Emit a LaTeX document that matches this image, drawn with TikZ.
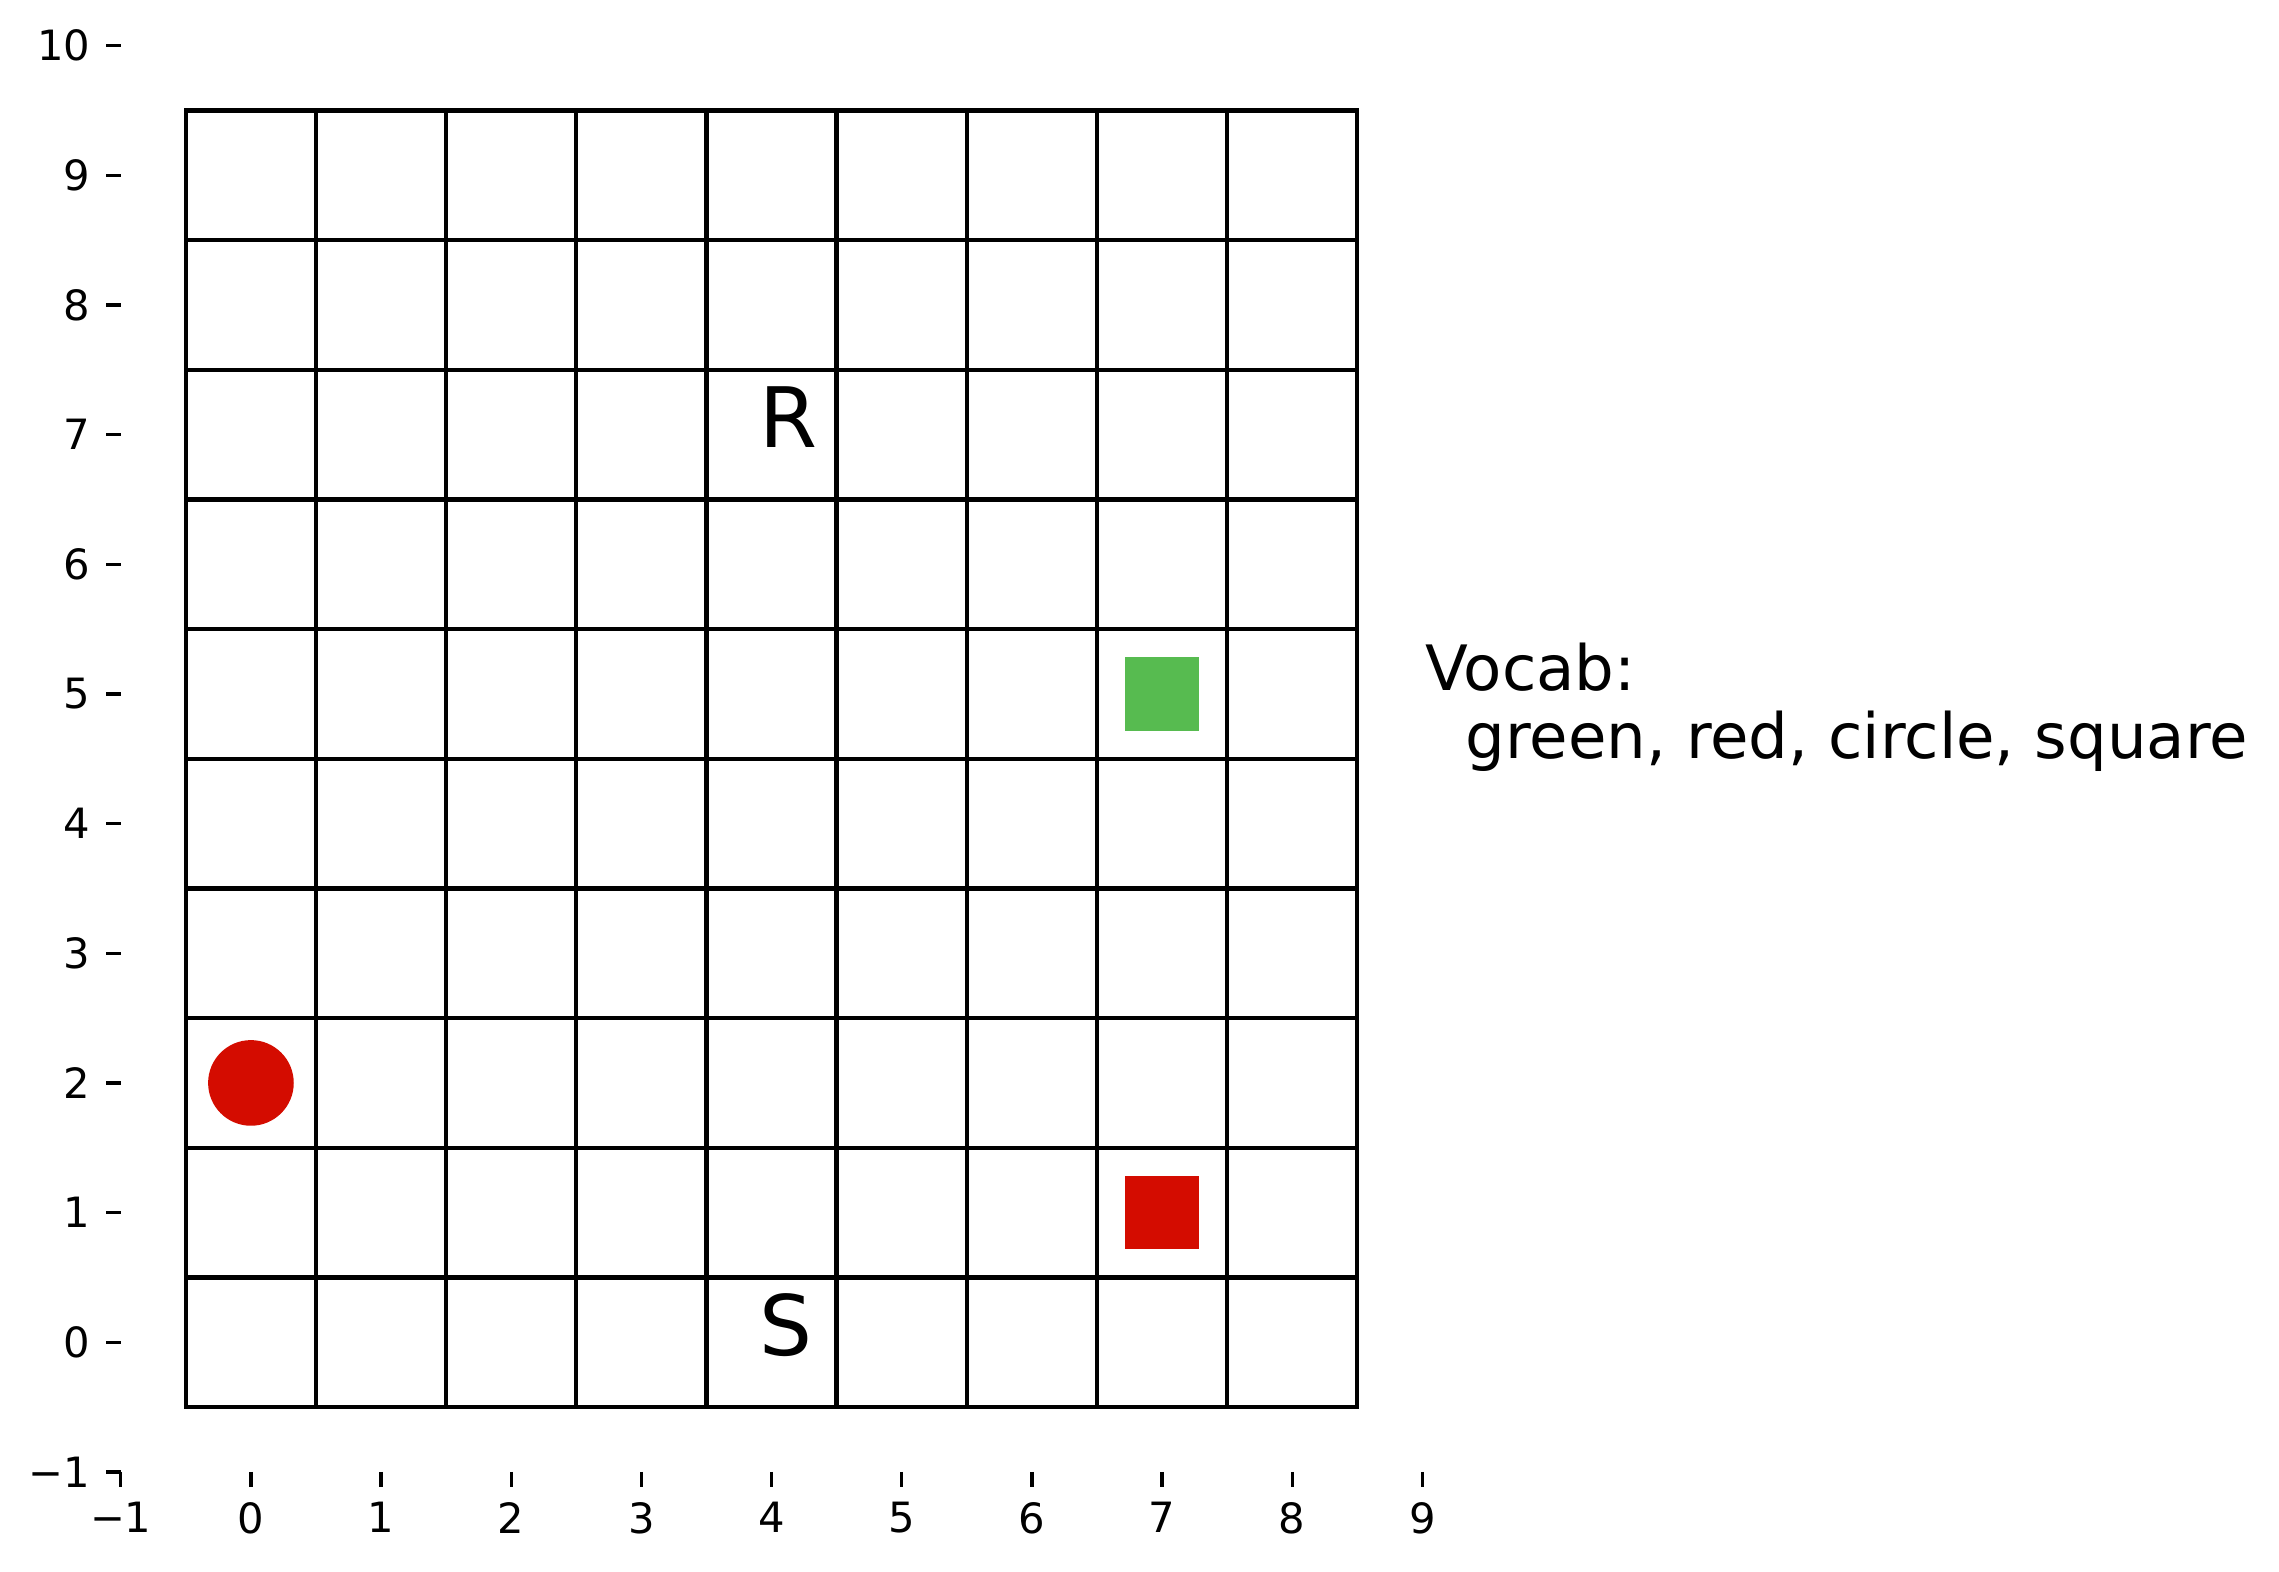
\documentclass[tikz,border=0pt]{standalone}
\usepackage{fontspec}
\setmainfont{DejaVu Sans}
\definecolor{cellred}{RGB}{212,12,0}
\definecolor{cellgreen}{RGB}{87,187,80}
\begin{document}
\begin{tikzpicture}[x=1cm,y=0.99608cm,
  gridline/.style={line width=0.95pt, black, line cap=rect},
  tickline/.style={line width=0.73pt, black},
  ticklabel/.style={inner sep=0pt, font=\fontsize{9.12}{11}\selectfont},
  bigletter/.style={inner sep=0pt, anchor=base west, font=\fontsize{18.24}{22}\selectfont},
  vocabtext/.style={inner sep=0pt, anchor=base west, font=\fontsize{13.68}{16}\selectfont},
  shapesq/.style={minimum size=0.563cm, inner sep=0pt, draw=none},
  shapecirc/.style={circle, minimum size=0.658cm, inner sep=0pt, draw=none}]
\useasboundingbox (-1.928,-1.765) rectangle (15.582,10.353);
% grid
\foreach \i in {0,...,9} {
  \draw[gridline] (\i-0.5,-0.5) -- (\i-0.5,9.5);
}
\foreach \j in {0,...,10} {
  \draw[gridline] (-0.5,\j-0.5) -- (8.5,\j-0.5);
}
% x ticks
\foreach \k/\t in {-1/−1,0/0,1/1,2/2,3/3,4/4,5/5,6/6,7/7,8/8,9/9} {
  \draw[tickline] (\k,-1) -- (\k,-1.115);
  \node[ticklabel, anchor=north] (xl\k) at (\k,-1.229) {\t};
}
% y ticks
\foreach \k/\t in {-1/−1,0/0,1/1,2/2,3/3,4/4,5/5,6/6,7/7,8/8,9/9,10/10} {
  \draw[tickline] (-1,\k) -- (-1.115,\k);
  \node[ticklabel, anchor=east] (yl\k) at (-1.2285,\k) {\t};
}
% objects
\node[shapesq, fill=cellgreen] (greensq) at (7,5) {};
\node[shapesq, fill=cellred] (redsq) at (7,1) {};
\node[shapecirc, fill=cellred] (redcirc) at (0,2) {};
% letters
\node[bigletter] (R) at (3.9,6.9) {R};
\node[bigletter] (S) at (3.9,-0.1) {S};
% vocab
\node[vocabtext] (vocabhead) at (9.02,5.03) {Vocab:};
\node[vocabtext] (vocablist) at (9.02,4.504) {\hspace*{0.636em}green, red, circle, square};
\end{tikzpicture}
\end{document}
